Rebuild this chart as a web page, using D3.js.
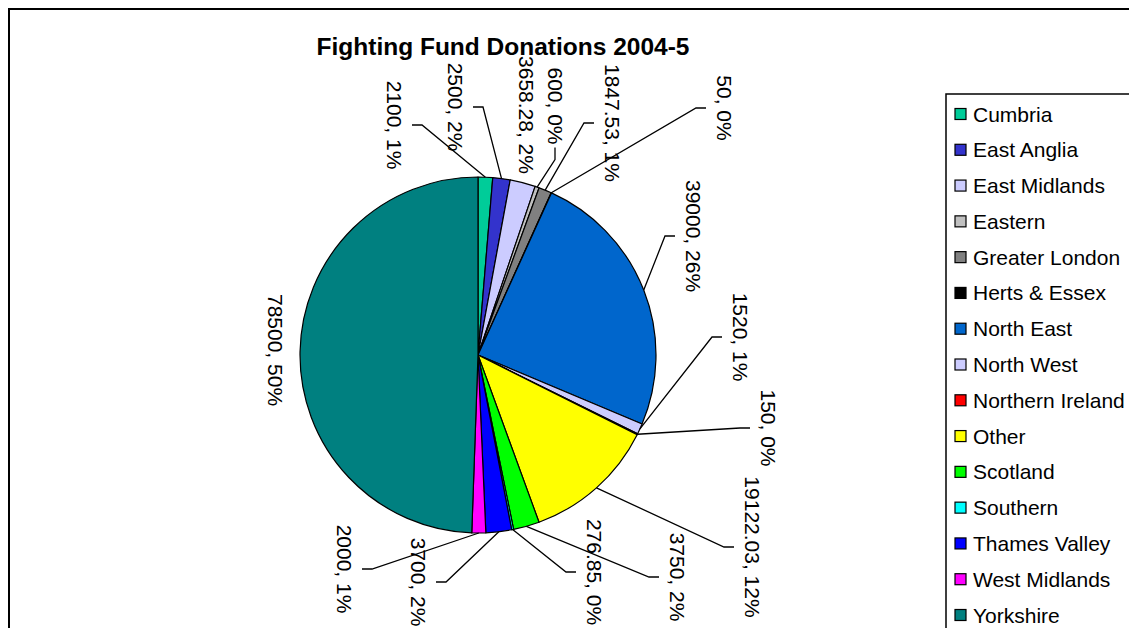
<!DOCTYPE html>
<html>
<head>
<meta charset="utf-8">
<script src="https://cdn.jsdelivr.net/npm/d3@7"></script>
<style>
  html, body { margin: 0; padding: 0; background: #fff; }
  svg { display: block; font-family: "Liberation Sans", Arial, sans-serif; }
</style>
</head>
<body>
<svg id="chart" width="1129" height="628"></svg>
<script>
// ---- Data ----
const categories = ["Cumbria", "East Anglia", "East Midlands", "Eastern", "Greater London",
  "Herts & Essex", "North East", "North West", "Northern Ireland", "Other", "Scotland",
  "Southern", "Thames Valley", "West Midlands", "Yorkshire"];
const values = [2100, 2500, 3658.28, 600, 1847.53, 50, 39000, 1520, 150, 19122.03, 3750,
  276.85, 3700, 2000, 78500];
const percentLabels = ["1%", "2%", "2%", "0%", "1%", "0%", "26%", "1%", "0%", "12%", "2%",
  "0%", "2%", "1%", "50%"];
const colors = ["#00CC99", "#3333CC", "#CCCCFF", "#C0C0C0", "#808080", "#000000", "#0066CC",
  "#CCCCFF", "#FF0000", "#FFFF00", "#00FF00", "#00FFFF", "#0000FF", "#FF00FF", "#008080"];
const title = "Fighting Fund Donations 2004-5";

// ---- Layout (label centres and leader side) ----
const labelLayout = [
  [394, 125, "r"], [455, 107, "r"], [526, 115, null], [555, 106, "b"], [612, 123, "l"],
  [724, 108, "l"], [693, 236, "l"], [740, 337, "l"], [768, 428, "l"], [752, 547, "l"],
  [677, 577, "l"], [594, 572, "l"], [418, 582, "r"], [344, 569, "r"], [275, 350, null]
];

const svg = d3.select("#chart");
const cx = 478, cy = 355, R = 178;

// outer chart border
svg.append("rect").attr("x", 9).attr("y", 9).attr("width", 1200).attr("height", 700)
  .attr("fill", "none").attr("stroke", "#000").attr("stroke-width", 2);

// title
svg.append("text").attr("x", 503).attr("y", 55).attr("text-anchor", "middle")
  .attr("font-size", 24.5).attr("font-weight", "bold").text(title);

const color = d3.scaleOrdinal().domain(categories).range(colors);
const pie = d3.pie().sort(null).value((d, i) => values[i]);
const arcs = pie(categories);
const arc = d3.arc().innerRadius(0).outerRadius(R);
const edgeArc = d3.arc().innerRadius(R).outerRadius(R);

const g = svg.append("g").attr("transform", `translate(${cx},${cy})`);
g.selectAll("path").data(arcs).join("path")
  .attr("d", arc)
  .attr("fill", d => color(d.data))
  .attr("stroke", "#000").attr("stroke-width", 1.2).attr("stroke-linejoin", "round");

// labels
const labelG = svg.append("g");
arcs.forEach((d, i) => {
  const [lx, ly, side] = labelLayout[i];
  const t = labelG.append("text")
    .attr("transform", `translate(${lx},${ly}) rotate(90)`)
    .attr("text-anchor", "middle").attr("dy", "0.35em")
    .attr("font-size", 21)
    .text(`${values[i]}, ${percentLabels[i]}`);
  if (!side) return;
  const half = t.node().getComputedTextLength() / 2;
  const c = edgeArc.centroid(d);
  const p0 = [cx + c[0], cy + c[1]];
  let end, elbow;
  if (side === "l") { end = [lx - 18, ly]; elbow = [lx - 28, ly]; }
  else if (side === "r") { end = [lx + 18, ly]; elbow = [lx + 28, ly]; }
  else { end = [lx, ly + half + 3]; elbow = [lx, ly + half + 15]; }
  labelG.append("polyline")
    .attr("points", [p0, elbow, end].map(p => p.join(",")).join(" "))
    .attr("fill", "none").attr("stroke", "#000").attr("stroke-width", 1.3);
});

// legend
const lg = svg.append("g");
lg.append("rect").attr("x", 946).attr("y", 94).attr("width", 300).attr("height", 600)
  .attr("fill", "#fff").attr("stroke", "#000").attr("stroke-width", 1.5);
const legendY = d3.scalePoint().domain(categories).range([114, 615]);
const items = lg.selectAll("g.item").data(categories).join("g").attr("class", "item")
  .attr("transform", d => `translate(0,${legendY(d)})`);
items.append("rect").attr("x", 955).attr("y", -5.5).attr("width", 11).attr("height", 11)
  .attr("fill", d => color(d)).attr("stroke", "#000").attr("stroke-width", 1.2);
items.append("text").attr("x", 973).attr("dy", "0.36em").attr("font-size", 21).text(d => d);
</script>
</body>
</html>
